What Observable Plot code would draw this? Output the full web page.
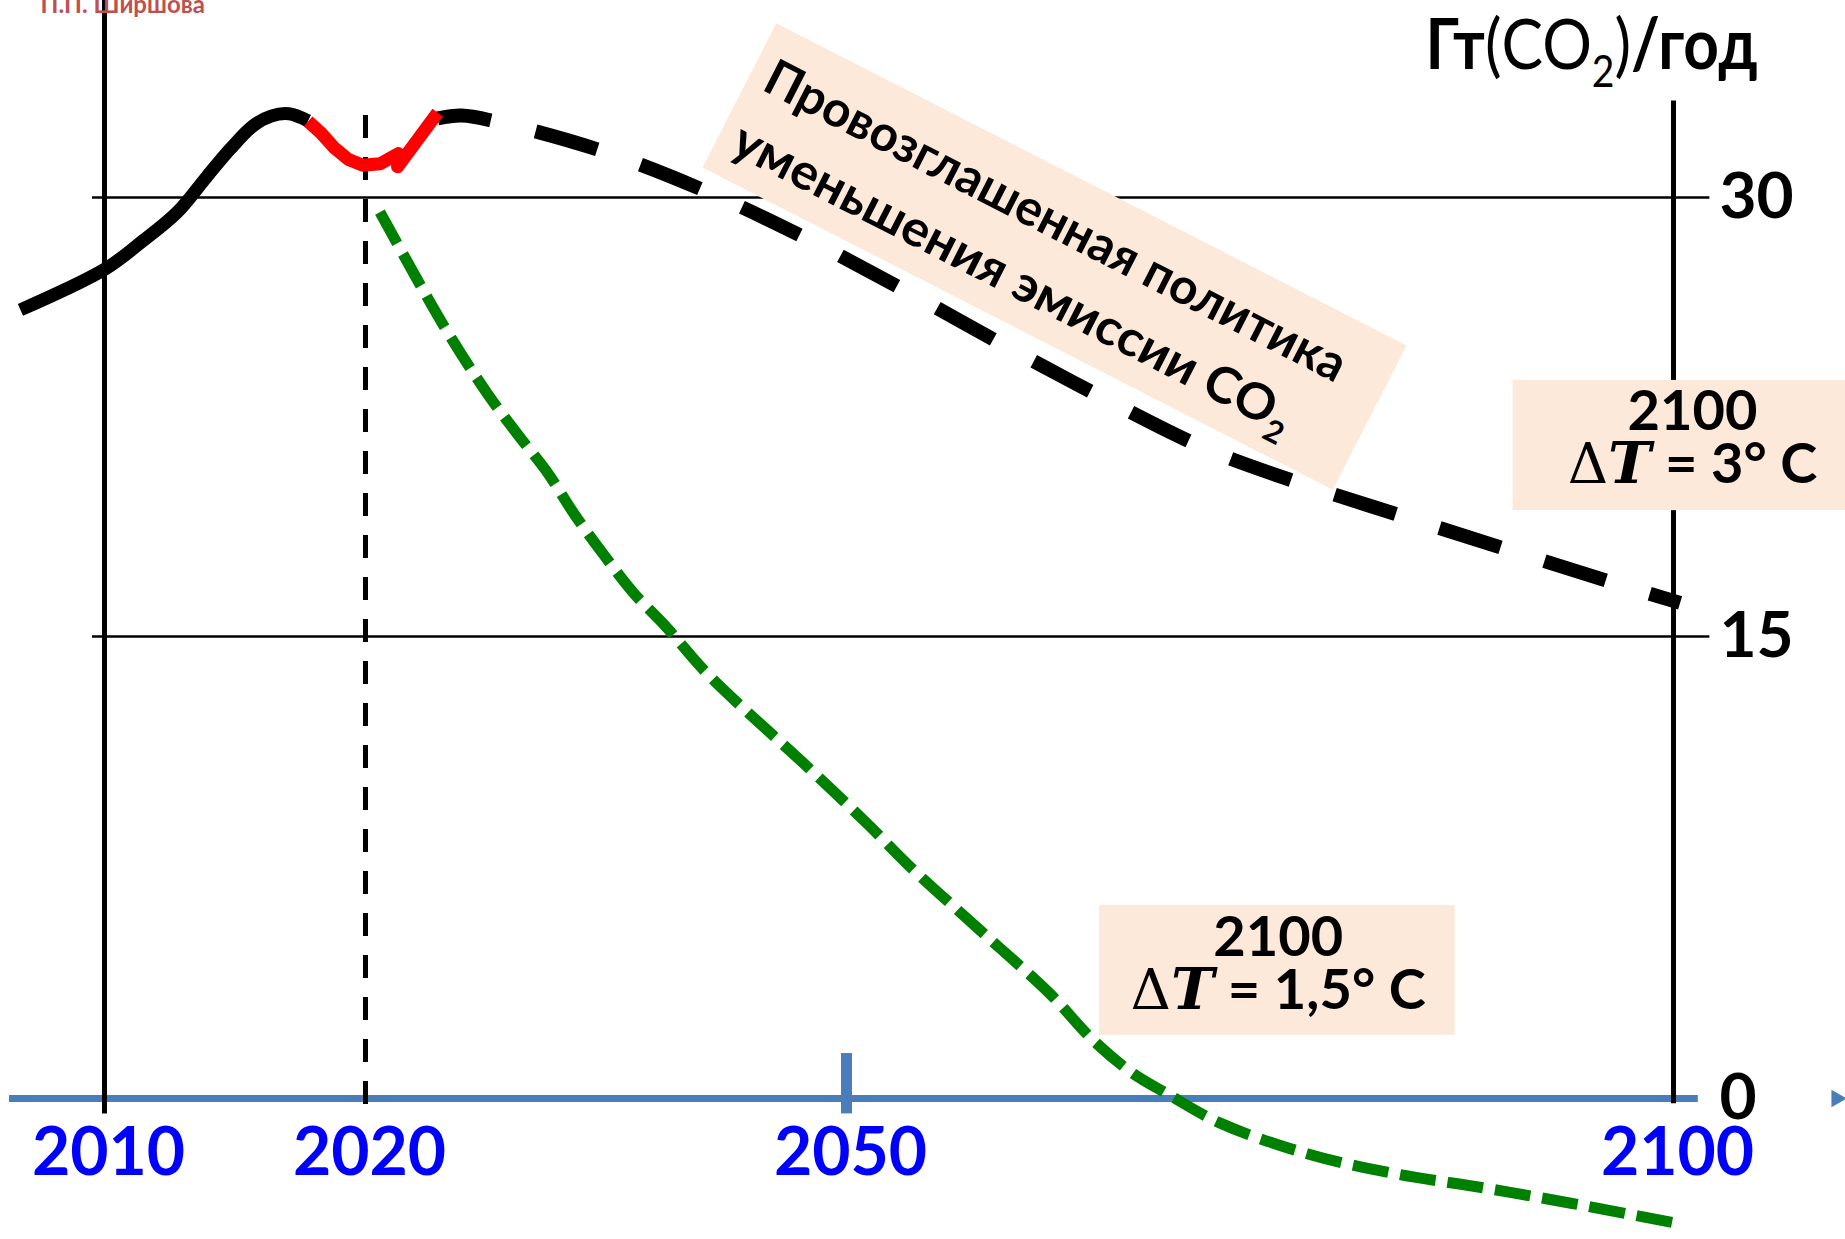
<!DOCTYPE html>
<html><head><meta charset="utf-8">
<script src="https://cdn.jsdelivr.net/npm/d3@7"></script>
<script src="https://cdn.jsdelivr.net/npm/@observablehq/plot@0.6"></script>
<style>html,body{margin:0;padding:0;background:#fff;overflow:hidden}</style>
</head><body><div id="chart"></div>
<script>
// ---------- data ----------
const historyYears  = [2006.78, 2010.03, 2011.43, 2012.78, 2013.9, 2014.81, 2015.71, 2016.38, 2017.06, 2017.8];
const historyValues = [26.16, 27.56, 28.49, 29.49, 30.69, 31.65, 32.46, 32.78, 32.86, 32.62];

const observedYears  = [2017.8, 2018.3, 2018.8, 2019.35, 2019.9, 2020.9, 2022.05, 2022.0, 2024.5];
const observedValues = [32.6, 32.2, 31.7, 31.3, 31.1, 31.15, 31.5, 31.05, 32.9];

const policyYears  = [2024.5, 2026, 2028.1, 2034.7, 2041.3, 2047.5, 2053.6, 2059.7, 2065.7, 2071.8, 2077.1, 2083.4, 2089.8, 2096.3, 2100.4];
const policyValues = [32.7, 32.8, 32.6, 31.6, 30.2, 28.6, 26.8, 24.9, 23.1, 21.4, 20.3, 19.15, 18.0, 16.85, 16.15];

const targetYears  = [2020.9, 2024.9, 2027.6, 2029.5, 2031.35, 2033.0, 2034.85, 2036.7, 2038.8, 2041.3, 2047.6, 2051.3, 2053.7, 2058.1, 2062.3, 2064.9, 2067.35, 2069.4, 2072.6, 2077.9, 2083.25, 2088.5, 2093.8, 2100.2];
const targetValues = [29.5, 25.6, 23.3, 21.9, 20.6, 19.2, 17.8, 16.5, 15.3, 13.8, 10.75, 8.9, 7.6, 5.45, 3.4, 1.9, 0.8, 0.15, -0.8, -1.8, -2.45, -2.9, -3.4, -4.05];

const xTickYears  = [2010, 2020, 2050, 2100];
const xTickLabels = ["2010", "2020", "2050", "2100"];
const yTickValues = [0, 15, 30];
const yTickLabels = ["0", "15", "30"];

const unitLabel   = "Гт(CO₂)/год";
const authorLabel = "П.П. Ширшова";
const policyLabel = ["Провозглашенная политика", "уменьшения эмиссии CO₂"];
const outcomeYearLabels = ["2100", "2100"];
const outcomeTempLabels = ["ΔT = 3° C", "ΔT = 1,5° C"];

// ---------- annotation anchors (data coordinates) ----------
const policyBoxEnds  = [{x: 2043.32, y: 33.49}, {x: 2081.63, y: 22.48}];
const policyLineAnch = [{x: 2044.63, y: 33.70}, {x: 2042.65, y: 31.56}];
const outcomeBoxes   = [{x1: 2090.3, x2: 2111, y1: 19.3, y2: 23.75}, {x1: 2065.3, x2: 2086.8, y1: 2.05, y2: 6.27}];
const outcomeText    = [{x: 2101.15, yTop: 22.04, yBot: 20.23}, {x: 2076.1, yTop: 4.64, yBot: 2.92}];

const rows = (xs, ys) => xs.map((x, i) => ({x, y: ys[i]}));
const history  = rows(historyYears, historyValues);
const observed = rows(observedYears, observedValues);
const policy   = rows(policyYears, policyValues);
const target   = rows(targetYears, targetValues);

// the original time axis is not uniform (2010–2020 is stretched): piecewise scale transforms
const W = 1845, H = 1239;
const xWarp = d3.scaleLinear().domain([2010, 2020, 2050, 2100]).range([104, 365, 846, 1673]);
const yWarp = d3.scaleLinear().domain([0, 15, 30]).range([1098, 636, 197]);

const FONT = "Lato, 'Open Sans', 'Noto Sans', sans-serif";
const SERIF = "'DejaVu Serif', 'Liberation Serif', serif";
const axisBlue = "#4a7ebb";
const peach = "#fde9d9";

const chart = Plot.plot({
  width: W, height: H,
  marginTop: 0, marginRight: 0, marginBottom: 0, marginLeft: 0,
  style: {background: "white", fontFamily: FONT},
  x: {type: "linear", transform: d => xWarp(d), domain: [0, W], range: [0, W], axis: null},
  y: {type: "linear", transform: d => yWarp(d), domain: [0, H], range: [0, H], axis: null},
  marks: [
    // gridlines
    Plot.ruleY(yTickValues.filter(v => v > 0), {x1: () => 2009.54, x2: () => 2102.2, stroke: "black", strokeWidth: 2.5}),
    // rotated policy box
    Plot.line(policyBoxEnds, {x: "x", y: "y", stroke: peach, strokeWidth: 162, strokeLinecap: "butt"}),
    // x axis
    Plot.ruleY([0], {x1: () => 2006.36, x2: () => 2101.5, stroke: axisBlue, strokeWidth: 7}),
    Plot.dot([0], {y: d => d, frameAnchor: "right", dx: -9, symbol: "triangle", rotate: 90, r: 6.5, fill: axisBlue, stroke: "none"}),
    Plot.ruleX([2050], {y1: () => -0.5, y2: () => 1.46, stroke: axisBlue, strokeWidth: 11}),
    Plot.ruleX([2010], {y1: () => 37, y2: () => -0.5, stroke: "black", strokeWidth: 5}),
    Plot.ruleX([2020], {y1: () => 32.8, y2: () => -0.5, stroke: "black", strokeWidth: 5, strokeDasharray: "23,19"}),
    Plot.ruleX([2100], {y1: () => 33.3, y2: () => -0.17, stroke: "black", strokeWidth: 5}),
    // series
    Plot.line(history, {x: "x", y: "y", stroke: "black", strokeWidth: 13, curve: "catmull-rom", strokeLinecap: "butt"}),
    Plot.line(policy, {x: "x", y: "y", stroke: "black", strokeWidth: 14, curve: "catmull-rom", strokeDasharray: "64,46", strokeDashoffset: 10, strokeLinecap: "butt"}),
    Plot.line(observed, {x: "x", y: "y", stroke: "#ff0000", strokeWidth: 13, curve: "linear", strokeLinecap: "butt", strokeLinejoin: "round"}),
    Plot.line(target, {x: "x", y: "y", stroke: "#008000", strokeWidth: 11, curve: "catmull-rom", strokeDasharray: "36,12", strokeLinecap: "butt"}),
    // outcome boxes
    Plot.rect(outcomeBoxes, {x1: "x1", x2: "x2", y1: "y1", y2: "y2", fill: peach}),
    Plot.text(outcomeText, {x: "x", y: "yTop", text: (d, i) => outcomeYearLabels[i], lineAnchor: "bottom", fontSize: 56, fontWeight: "bold", fill: "black", fontFamily: FONT}),
    Plot.text(outcomeText, {x: "x", y: "yBot", text: (d, i) => outcomeTempLabels[i], lineAnchor: "bottom", fontSize: 56, fontWeight: "bold", fill: "black", fontFamily: FONT}),
    // policy text (rotated)
    Plot.text(policyLineAnch, {x: "x", y: "y", text: (d, i) => policyLabel[i], rotate: 27.07, textAnchor: "start", lineAnchor: "bottom", fontSize: 50, fontWeight: "bold", fill: "black", fontFamily: FONT}),
    // tick labels
    Plot.text(xTickYears, {x: d => d, y: () => 0, text: (d, i) => xTickLabels[i], dx: 4, dy: 55, lineAnchor: "middle", fill: "#0000ff", fontSize: 66, fontWeight: "bold", fontFamily: FONT}),
    Plot.text(yTickValues, {x: () => 2100, y: d => d, text: (d, i) => yTickLabels[i], dx: 46, textAnchor: "start", lineAnchor: "middle", fill: "black", fontSize: 64, fontWeight: "bold", fontFamily: FONT}),
    // unit and author
    Plot.text([unitLabel], {frameAnchor: "top-right", text: d => d, textAnchor: "end", lineAnchor: "bottom", dx: -88, dy: 68, fontSize: 70, fontWeight: "bold", fill: "black", fontFamily: FONT}),
    Plot.text([authorLabel], {frameAnchor: "top-left", text: d => d, textAnchor: "start", lineAnchor: "bottom", dx: 40, dy: 12, fontSize: 24, fontWeight: "bold", fill: "#c0504d", fontFamily: FONT})
  ]
});
document.getElementById("chart").appendChild(chart);

// ---------- rich text (weights, subscripts, math symbols) ----------
function rebuild(el, parts, length) {
  el.textContent = "";
  for (const p of parts) {
    const t = document.createElementNS("http://www.w3.org/2000/svg", "tspan");
    t.textContent = p.t;
    if (p.weight) t.setAttribute("font-weight", p.weight);
    if (p.style) t.setAttribute("font-style", p.style);
    if (p.family) t.setAttribute("font-family", p.family);
    if (p.size) t.setAttribute("font-size", p.size);
    if (p.dy) t.setAttribute("dy", p.dy);
    el.appendChild(t);
  }
  if (length) {
    el.setAttribute("textLength", length);
    el.setAttribute("lengthAdjust", "spacingAndGlyphs");
  }
}
d3.select(chart).selectAll("text").each(function () {
  const s = this.textContent;
  if (s === unitLabel) {
    rebuild(this, [
      {t: "Гт", weight: "bold"},
      {t: "(CO", weight: "normal"},
      {t: "2", weight: "normal", size: 44, dy: 18},
      {t: ")", weight: "normal", dy: -18},
      {t: "/год", weight: "bold"}
    ], 332);
  } else if (s === policyLabel[0]) {
    rebuild(this, [{t: s}], 646);
  } else if (s === policyLabel[1]) {
    rebuild(this, [
      {t: s.replace("₂", "")},
      {t: "2", size: 31, dy: 12}
    ], 622);
  } else if (s.startsWith("ΔT")) {
    rebuild(this, [
      {t: "Δ", family: SERIF, weight: "normal", size: 56},
      {t: "T", family: SERIF, weight: "bold", style: "italic", size: 58},
      {t: s.slice(2)}
    ]);
  }
});
</script>
</body></html>
